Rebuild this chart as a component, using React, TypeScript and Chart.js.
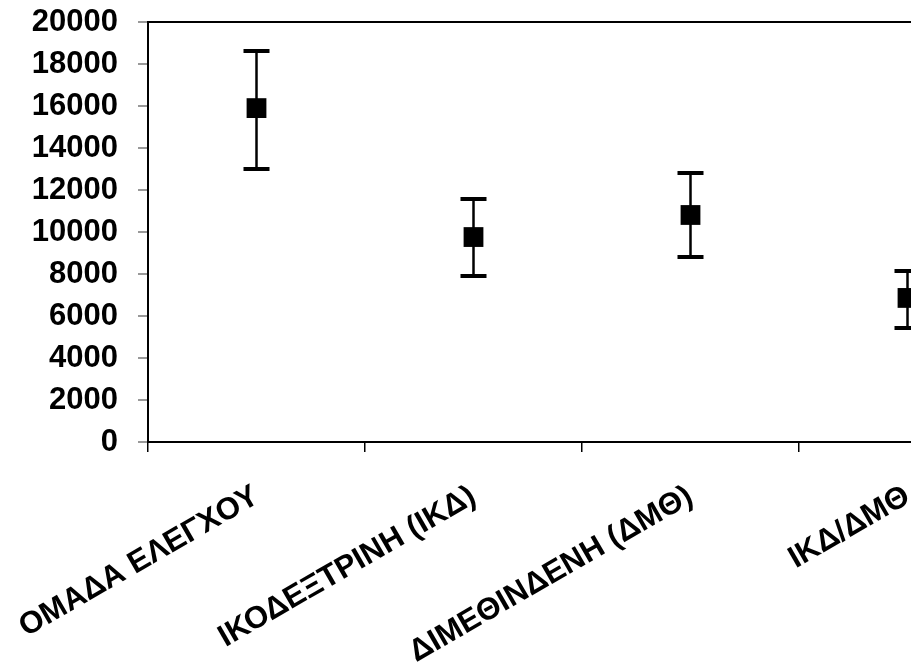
import React, { useEffect, useRef } from "react";
import { Chart, registerables } from "chart.js";

Chart.register(...registerables);

const categories = ["ΟΜΑΔΑ ΕΛΕΓΧΟΥ", "ΙΚΟΔΕΞΤΡΙΝΗ (ΙΚΔ)", "ΔΙΜΕΘΙΝΔΕΝΗ (ΔΜΘ)", "ΙΚΔ/ΔΜΘ"];
const means = [15900, 9760, 10810, 6860];
const upper = [18620, 11570, 12810, 8140];
const lower = [13000, 7900, 8810, 5430];
const yTicks = [0, 2000, 4000, 6000, 8000, 10000, 12000, 14000, 16000, 18000, 20000];

const errorBarPlugin = {
  id: "errorBars",
  afterDatasetsDraw(chart: any) {
    const x = chart.scales.x;
    const y = chart.scales.y;
    const ctx = chart.ctx;
    ctx.save();
    ctx.strokeStyle = "#000";
    for (let i = 0; i < means.length; i++) {
      const px = x.getPixelForValue(i);
      const hi = y.getPixelForValue(upper[i]);
      const lo = y.getPixelForValue(lower[i]);
      ctx.lineWidth = 2.5;
      ctx.beginPath();
      ctx.moveTo(px, hi);
      ctx.lineTo(px, lo);
      ctx.stroke();
      ctx.lineWidth = 4;
      ctx.beginPath();
      ctx.moveTo(px - 13, hi);
      ctx.lineTo(px + 13, hi);
      ctx.moveTo(px - 13, lo);
      ctx.lineTo(px + 13, lo);
      ctx.stroke();
    }
    const a = chart.chartArea;
    ctx.lineWidth = 2;
    ctx.beginPath();
    ctx.moveTo(a.left, a.top);
    ctx.lineTo(a.right, a.top);
    ctx.stroke();
    ctx.restore();
  },
};

export default function App() {
  const ref = useRef<HTMLCanvasElement | null>(null);
  useEffect(() => {
    if (!ref.current) return;
    const chart = new Chart(ref.current, {
      type: "line",
      data: {
        labels: categories,
        datasets: [
          {
            data: means,
            showLine: false,
            pointStyle: "rect",
            pointRadius: 14,
            pointHoverRadius: 14,
            pointBackgroundColor: "#000",
            pointBorderColor: "#000",
            pointBorderWidth: 0,
          },
        ],
      },
      options: {
        responsive: false,
        animation: false,
        events: [],
        layout: { padding: { top: 22, right: 14, left: 0, bottom: 0 } },
        plugins: { legend: { display: false }, tooltip: { enabled: false } },
        scales: {
          x: {
            type: "category",
            offset: true,
            grid: {
              offset: true,
              drawOnChartArea: false,
              drawTicks: true,
              tickLength: 10,
              color: "#000",
              lineWidth: 1.5,
            },
            border: { color: "#000", width: 2 },
            ticks: {
              autoSkip: false,
              minRotation: 30,
              maxRotation: 30,
              padding: 26,
              labelOffset: 0,
              color: "#000",
              font: { family: "Liberation Sans, Arial, sans-serif", size: 31, weight: "bold" },
            },
            afterFit(scale: any) {
              scale.height = 224;
              scale.paddingLeft = 0;
              scale.paddingRight = 0;
            },
          },
          y: {
            min: 0,
            max: 20000,
            afterBuildTicks(scale: any) {
              scale.ticks = yTicks.map((v) => ({ value: v }));
            },
            grid: {
              drawOnChartArea: false,
              drawTicks: true,
              tickLength: 10,
              color: "#999",
              lineWidth: 2,
            },
            border: { color: "#000", width: 2 },
            ticks: {
              padding: 20,
              color: "#000",
              callback: (v: any) => String(v),
              font: { family: "Liberation Sans, Arial, sans-serif", size: 31, weight: "bold" },
            },
            afterFit(scale: any) {
              scale.width = 148;
              scale.paddingTop = 0;
              scale.paddingBottom = 0;
            },
          },
        },
      },
      plugins: [errorBarPlugin],
    } as any);
    return () => chart.destroy();
  }, []);
  return (
    <div style={{ position: "fixed", left: 0, top: 0, width: 911, height: 666, overflow: "hidden", background: "#fff" }}>
      <canvas ref={ref} width={1030} height={666} style={{ display: "block" }} />
    </div>
  );
}
